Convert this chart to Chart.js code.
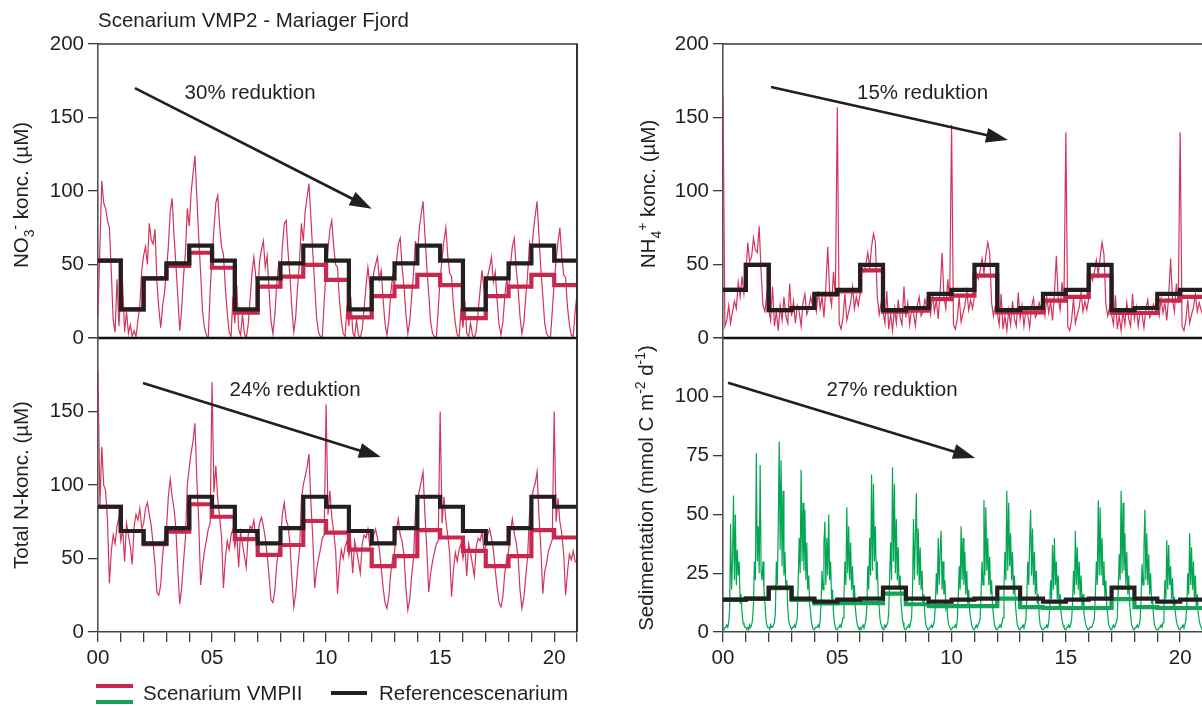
<!DOCTYPE html>
<html lang="da">
<head>
<meta charset="utf-8">
<title>Scenarium VMP2 - Mariager Fjord</title>
<script src="https://cdn.jsdelivr.net/npm/chart.js@4.4.1/dist/chart.umd.min.js"></script>
<style>
  html, body { margin: 0; padding: 0; background: #fff; width: 1202px; height: 706px; overflow: hidden; }
  #wrap { position: relative; width: 1202px; height: 706px; overflow: hidden;
          font-family: 'Liberation Sans', Arial, Helvetica, sans-serif; color: #231f20; }
  canvas { position: absolute; }
  .txt { position: absolute; font-size: 20.5px; line-height: 20px; white-space: nowrap; }
  .sw { position: absolute; height: 4px; }
</style>
</head>
<body>
<div id="wrap">
  <canvas id="cNO3" width="600" height="350" style="left:0;top:0"></canvas>
  <canvas id="cTN" width="600" height="406" style="left:0;top:300px"></canvas>
  <canvas id="cNH4" width="620" height="350" style="left:600px;top:0"></canvas>
  <canvas id="cSED" width="620" height="406" style="left:600px;top:300px"></canvas>

  <div class="txt" style="left:98px;top:10px">Scenarium VMP2 - Mariager Fjord</div>

  <div class="sw" style="left:96px;top:684px;width:37px;background:#c8284e"></div>
  <div class="sw" style="left:96px;top:700px;width:37px;background:#13a457"></div>
  <div class="txt" style="left:143px;top:683px">Scenarium VMPII</div>
  <div class="sw" style="left:331px;top:691px;width:36px;background:#231f20"></div>
  <div class="txt" style="left:379px;top:683px">Referencescenarium</div>
</div>

<script>
// ---- time axis: years 00 .. 21, labels every fifth year ----
const YEAR_MAX = 21;
const X_LABEL_YEARS = [0, 5, 10, 15, 20];

// ---- NO3- (µM): monthly VMPII series, annual means ----
const NO3_VMP_THIN = [
   15, 62,107, 92, 88, 80, 75, 45, 12,  4, 40,  8,
   30, 35,  4, 18,  3,  9,  1,  5,  1, 12, 22, 46,
   56, 62, 50, 78, 67, 64, 74, 38, 20,  7, 22, 31,
   46, 62, 86, 95, 70, 50, 28,  5, 19, 42, 58, 88,
   76, 99,112,124, 96, 68, 44, 18,  7,  2,  0, 32,
   55, 74, 92, 97, 76, 62, 57, 34, 17,  4,  1, 28,
   10, 36,  6,  2, 16,  3,  0,  9, 26, 44, 55, 42,
   28, 52, 60, 66, 48, 56, 32, 12,  3, 15, 36, 50,
   40, 62, 78, 80, 58, 42, 20,  4, 14, 35, 52, 78,
   66, 86, 96,105, 82, 58, 36, 14,  4,  1,  0, 25,
   46, 60, 74, 80, 62, 50, 48, 26, 12,  3,  1, 22,
    8, 28,  4,  1, 12,  2,  0,  6, 20, 35, 48, 36,
   22, 44, 50, 55, 40, 46, 26, 10,  2, 12, 30, 42,
   34, 52, 64, 68, 48, 35, 16,  3, 11, 28, 44, 66,
   56, 74, 84, 93, 70, 48, 30, 11,  3,  1,  0, 20,
   40, 54, 66, 75, 56, 44, 42, 22, 10,  2,  1, 20,
    7, 25,  3,  1, 10,  2,  0,  5, 18, 32, 46, 34,
   20, 42, 48, 55, 38, 45, 25,  9,  2, 11, 28, 40,
   32, 50, 62, 68, 47, 34, 15,  3, 10, 27, 43, 64,
   55, 72, 83, 93, 69, 47, 29, 10,  3,  1,  0, 18,
   38, 53, 65, 75, 55, 43, 41, 21,  9,  2,  1, 18,
   30];
const NO3_VMP_YEAR = [52.6, 19.5, 40.6, 49, 58, 47.8, 17.2, 34.9, 41.7, 49.7, 39.5,
                      14, 28.5, 35, 43, 36, 13.5, 28.5, 35, 43, 36];
const NO3_REF_YEAR = [52.6, 19.5, 40.6, 50.8, 62.8, 52.6, 19.5, 40.6, 50.8, 62.8, 52.6,
                      19.5, 40.6, 50.8, 62.8, 52.6, 19.5, 40.6, 50.8, 62.8, 52.6];

// ---- Total N (µM) ----
const TN_VMP_THIN = [
  178, 86,126,100, 96, 76, 33, 55, 66, 60, 72, 78,
   62, 70, 48, 74, 66, 58, 46, 72, 80, 76, 84, 70,
   74, 84, 88, 80, 72, 60, 46, 27, 25, 32, 52, 64,
   70, 92,104, 92, 84, 70, 42, 19, 30, 48, 64,100,
  112,122,130,142,104, 75, 32, 45, 55, 62, 70, 74,
  170, 95,113, 90, 78, 65, 30, 50, 62, 56, 66, 70,
   58, 66, 44, 68, 60, 52, 44, 66, 72, 70, 76, 64,
   66, 74, 78, 72, 64, 52, 38, 22, 20, 28, 46, 56,
   62, 80, 88, 76, 72, 60, 36, 17, 26, 42, 56, 90,
  100,106,112,121, 88, 64, 30, 42, 50, 56, 64, 66,
  155, 80, 96, 78, 68, 56, 26, 44, 56, 50, 58, 62,
   52, 60, 40, 62, 56, 48, 40, 60, 66, 64, 70, 58,
   60, 66, 70, 64, 56, 44, 30, 20, 16, 24, 40, 50,
   54, 70, 77, 66, 62, 52, 30, 15, 22, 38, 50, 82,
   90, 96,102,109, 80, 56, 27, 40, 48, 54, 60, 62,
  150, 74, 92, 76, 66, 54, 24, 42, 54, 48, 56, 60,
   50, 58, 38, 60, 54, 46, 38, 58, 64, 62, 68, 56,
   58, 66, 70, 64, 56, 42, 30, 20, 17, 24, 40, 50,
   55, 69, 77, 67, 61, 51, 29, 16, 23, 37, 51, 80,
   89, 97,101,109, 79, 57, 26, 41, 47, 55, 59, 63,
  150, 75, 91, 75, 67, 53, 25, 41, 53, 49, 55, 48,
   47];
const TN_VMP_YEAR = [85.2, 68.7, 59.8, 68.3, 86.9, 78.4, 63.2, 52.4, 59.2, 75.5, 67.6,
                     56, 44.8, 51.6, 69.3, 64.3, 55.2, 44.8, 51.6, 69.3, 64.3];
const TN_REF_YEAR = [85.2, 68.7, 60.3, 70.7, 92, 85.2, 68.7, 60.3, 70.7, 92, 85.2,
                     68.7, 60.3, 70.7, 92, 85.2, 68.7, 60.3, 70.7, 92, 85.2];

// ---- NH4+ (µM) ----
const NH4_VMP_THIN = [
  165,  8, 12, 22, 10, 18, 25, 20, 38, 28, 42, 30,
   42, 65, 52, 55, 68, 60, 58, 76, 45, 22, 18, 30,
   20, 12, 35,  8, 18,  5, 22, 12, 28, 15, 10, 37,
   15, 25, 10, 22, 18,  8, 24, 30, 16, 20, 28, 22,
   26, 18, 32, 20, 28, 14, 35, 62, 30, 22, 45, 28,
  157, 10,  6, 14, 30, 12, 18, 24, 35, 20, 28, 22,
   30, 48, 45, 50, 58, 48, 62, 71, 65, 28, 16, 24,
   18, 10, 32,  6, 16,  5, 20, 10, 26, 14,  9, 35,
   14, 24,  9, 20, 17,  8, 22, 28, 15, 18, 26, 21,
   24, 16, 30, 18, 26, 13, 32, 58, 28, 20, 40, 26,
  145,  9,  6, 13, 28, 11, 17, 22, 32, 19, 26, 20,
   28, 44, 40, 46, 54, 44, 56, 65, 58, 24, 15, 22,
   17,  9, 30,  6, 15,  5, 19,  9, 25, 13,  8, 31,
   13, 22,  8, 19, 16,  7, 21, 27, 14, 17, 24, 20,
   23, 15, 28, 17, 25, 12, 30, 56, 27, 19, 38, 25,
  140,  8,  5, 12, 27, 10, 16, 21, 31, 18, 25, 19,
   27, 43, 39, 45, 53, 43, 55, 65, 57, 23, 15, 21,
   16,  9, 29,  6, 15,  5, 18,  9, 24, 13,  8, 30,
   13, 21,  8, 18, 16,  7, 20, 26, 14, 17, 23, 19,
   22, 15, 27, 17, 24, 12, 29, 54, 26, 18, 37, 24,
  140,  8,  5, 12, 26, 10, 16, 21, 30, 18, 24, 19,
   15];
const NH4_VMP_YEAR = [32.7, 49.7, 19, 20.4, 29.5, 31.7, 46, 18, 18.6, 26.5, 28.8,
                      42.4, 17.5, 17.5, 25.4, 28, 42.4, 17, 17, 25.4, 28];
const NH4_REF_YEAR = [32.7, 49.7, 19, 20.4, 30, 32.7, 49.7, 19, 20.4, 30, 32.7,
                      49.7, 19, 20.4, 30, 32.7, 49.7, 19, 20.4, 30, 32.7];

// ---- Sedimentation (mmol C m-2 d-1), 24 values per year ----
const SED_VMP_THIN = [
  0, 1, 2, 2, 3, 2, 4, 10, 46, 18, 30, 58, 22, 50, 20, 35, 24, 30, 12, 16,  8, 4, 3, 2,
  2, 1, 2, 1, 3, 2, 3,  5, 12, 30, 22, 76, 30, 45, 25, 71, 26, 22, 30, 18, 12, 6, 3, 2,
  2, 1, 3, 2, 2, 3, 4,  8, 30, 20, 44, 81, 35, 73, 28, 60, 24, 34, 18, 22, 10, 5, 3, 2,
  1, 2, 2, 3, 2, 4, 6, 22, 40, 25, 69, 30, 55, 26, 52, 22, 38, 18, 24, 12,  8, 4, 2, 1,
  1, 2, 2, 2, 3, 2, 5, 12, 26, 18, 38, 47, 20, 40, 24, 50, 22, 30, 14, 18,  8, 4, 2, 1,
  1, 2, 2, 3, 2, 4, 6, 15, 30, 20, 53, 25, 45, 22, 38, 18, 28, 14, 20, 10,  6, 3, 2, 1,
  2, 1, 2, 3, 2, 3, 5, 10, 28, 18, 40, 24, 67, 26, 63, 30, 45, 22, 30, 15, 10, 5, 3, 2,
  1, 2, 3, 2, 3, 4, 8, 24, 38, 22, 70, 30, 63, 25, 48, 22, 36, 18, 24, 12,  7, 4, 2, 1,
  1, 2, 2, 3, 2, 4, 6, 18, 48, 22, 40, 59, 24, 44, 20, 36, 18, 26, 12, 16,  7, 3, 2, 1,
  1, 2, 2, 3, 2, 3, 5, 12, 25, 16, 40, 20, 35, 43, 18, 30, 16, 22, 10, 12,  6, 3, 2, 1,
  1, 2, 2, 2, 3, 2, 5, 14, 28, 18, 45, 22, 40, 20, 34, 16, 26, 12, 18,  9,  6, 3, 2, 1,
  1, 2, 3, 2, 3, 4, 6, 16, 30, 20, 56, 24, 53, 26, 40, 20, 32, 16, 22, 11,  7, 3, 2, 1,
  1, 2, 2, 3, 2, 4, 6, 18, 34, 22, 60, 26, 55, 28, 42, 22, 34, 16, 24, 12,  7, 3, 2, 1,
  1, 2, 2, 3, 2, 3, 5, 14, 30, 20, 38, 52, 24, 44, 20, 34, 16, 26, 12, 16,  7, 3, 2, 1,
  1, 1, 2, 2, 3, 2, 4, 10, 22, 14, 37, 18, 40, 20, 30, 14, 24, 11, 16,  8,  5, 3, 2, 1,
  1, 2, 2, 3, 2, 3, 5, 12, 26, 16, 43, 20, 36, 18, 30, 14, 24, 11, 16,  8,  5, 3, 2, 1,
  1, 2, 2, 2, 3, 4, 6, 16, 30, 20, 56, 24, 53, 24, 40, 20, 30, 15, 22, 11,  7, 3, 2, 1,
  1, 2, 3, 2, 3, 4, 6, 18, 33, 22, 60, 25, 55, 26, 42, 20, 34, 16, 24, 12,  7, 3, 2, 1,
  1, 2, 2, 3, 2, 3, 5, 14, 29, 20, 36, 52, 22, 42, 20, 33, 16, 25, 12, 15,  7, 3, 2, 1,
  1, 1, 2, 2, 3, 2, 4, 10, 22, 14, 39, 18, 37, 20, 28, 14, 23, 11, 15,  8,  5, 3, 2, 1,
  1, 2, 2, 3, 2, 3, 5, 12, 25, 16, 42, 20, 36, 18, 30, 14, 24, 11, 16,  8,  5, 3, 2, 1,
  1];
const SED_VMP_YEAR = [13.8, 14.2, 18.6, 13.6, 12.2, 12.3, 12.3, 16.3, 11.8, 11, 11,
                      11, 14.2, 10.6, 10.2, 10.2, 10.2, 14, 10.6, 10.2, 10.2];
const SED_REF_YEAR = [13.8, 14.2, 18.9, 14.2, 12.9, 13.8, 14.2, 18.9, 14.2, 12.9, 13.8,
                      14.2, 18.9, 14.2, 12.9, 13.8, 14.2, 18.9, 14.2, 12.9, 13.8];

// ---- styling ----
const FONT = "'Liberation Sans', Arial, Helvetica, sans-serif";
const FONT_SIZE = 20.5;
const INK = '#231f20';
const RED_THIN = '#d3345c', RED = '#c8284e';
const GREEN_THIN = '#00a651', GREEN = '#13a457';

Chart.defaults.font.family = FONT;
Chart.defaults.font.size = FONT_SIZE;
Chart.defaults.color = INK;

// series sampled at a fixed number of values per year
function perYear(vals, n) { return vals.map((v, i) => ({ x: i / n, y: v })); }
// annual values held constant over each year
function yearly(vals) {
  const pts = vals.map((v, i) => ({ x: i, y: v }));
  pts.push({ x: vals.length, y: vals[vals.length - 1] });
  return pts;
}

function thin(data, color) {
  return { data, borderColor: color, borderWidth: 1.2, pointRadius: 0, tension: 0, order: 3 };
}
function thick(data, color, order) {
  return { data, borderColor: color, borderWidth: 4.2, pointRadius: 0, stepped: true,
           borderJoinStyle: 'miter', borderCapStyle: 'butt', order };
}

// rotated axis title with sub- and superscripts
function drawRich(ctx, segs, cx, cy, size) {
  const small = size * 0.68;
  ctx.save();
  ctx.translate(cx, cy);
  ctx.rotate(-Math.PI / 2);
  ctx.fillStyle = INK;
  ctx.textBaseline = 'alphabetic';
  let w = 0;
  for (const s of segs) {
    ctx.font = (s.k ? small : size) + 'px ' + FONT;
    s.w = ctx.measureText(s.t).width;
    w += s.w;
  }
  let x = -w / 2;
  const base = size * 0.36;
  for (const s of segs) {
    ctx.font = (s.k ? small : size) + 'px ' + FONT;
    let y = base;
    if (s.k === 'sub') y = base + size * 0.28;
    if (s.k === 'sup') y = base - size * 0.42;
    ctx.textAlign = 'left';
    ctx.fillText(s.t, x, y);
    x += s.w;
  }
  ctx.restore();
}

const decor = {
  id: 'decor',
  afterDatasetsDraw(chart, _args, o) {
    const ctx = chart.ctx, a = chart.chartArea;
    const xs = chart.scales.x, ys = chart.scales.y;
    ctx.save();
    ctx.lineCap = 'butt';
    for (const e of (o.edges || [])) {
      ctx.strokeStyle = e.color; ctx.lineWidth = e.width;
      ctx.beginPath();
      if (e.side === 'top')    { ctx.moveTo(a.left, a.top);    ctx.lineTo(a.right + 1, a.top); }
      if (e.side === 'bottom') { ctx.moveTo(a.left, a.bottom); ctx.lineTo(a.right + 1, a.bottom); }
      if (e.side === 'right')  { ctx.moveTo(a.right, a.top);   ctx.lineTo(a.right, a.bottom); }
      ctx.stroke();
    }
    if (o.arrow) {
      const x1 = xs.getPixelForValue(o.arrow.from[0]), y1 = ys.getPixelForValue(o.arrow.from[1]);
      const x2 = xs.getPixelForValue(o.arrow.to[0]),   y2 = ys.getPixelForValue(o.arrow.to[1]);
      const ang = Math.atan2(y2 - y1, x2 - x1), L = 22, H = 7.5;
      const bx = x2 - L * Math.cos(ang), by = y2 - L * Math.sin(ang);
      ctx.strokeStyle = INK; ctx.fillStyle = INK; ctx.lineWidth = 2.6;
      ctx.beginPath(); ctx.moveTo(x1, y1); ctx.lineTo(bx + 3 * Math.cos(ang), by + 3 * Math.sin(ang)); ctx.stroke();
      ctx.beginPath();
      ctx.moveTo(x2, y2);
      ctx.lineTo(bx + H * Math.sin(ang), by - H * Math.cos(ang));
      ctx.lineTo(bx - H * Math.sin(ang), by + H * Math.cos(ang));
      ctx.closePath(); ctx.fill();
    }
    if (o.note) {
      ctx.font = FONT_SIZE + 'px ' + FONT;
      ctx.fillStyle = INK; ctx.textAlign = 'center'; ctx.textBaseline = 'middle';
      ctx.fillText(o.note.text, xs.getPixelForValue(o.note.at[0]), ys.getPixelForValue(o.note.at[1]));
    }
    if (o.title) {
      drawRich(ctx, o.title.segs, a.left + o.title.dx, (a.top + a.bottom) / 2 + (o.title.dy || 0), FONT_SIZE);
    }
    ctx.restore();
  }
};

// scale boxes keep a fixed size and ask for no extra edge room
function fixBox(s, w, h) {
  if (w !== undefined) s.width = w;
  if (h !== undefined) s.height = h;
  s.paddingTop = 0; s.paddingBottom = 0; s.paddingLeft = 0; s.paddingRight = 0;
}

function panel(id, cfg) {
  const tickGrid = { drawOnChartArea: false, drawTicks: true, tickLength: 10, color: '#3a3a3a', lineWidth: 1.3 };
  const x = {
    type: 'linear', min: 0, max: YEAR_MAX, display: cfg.xAxis,
    afterFit: s => fixBox(s, undefined, cfg.xHeight || 0),
    grid: tickGrid,
    border: { display: true, color: '#444', width: 1.6 },
    ticks: { stepSize: 1, autoSkip: false, maxRotation: 0, padding: 4,
             callback: v => X_LABEL_YEARS.includes(v) ? String(v).padStart(2, '0') : '' }
  };
  const y = {
    type: 'linear', min: 0, max: cfg.yMax,
    afterFit: s => fixBox(s, cfg.yWidth, undefined),
    grid: tickGrid,
    border: { display: true, color: '#555', width: 1.6 },
    ticks: { stepSize: cfg.yStep, autoSkip: false, padding: 4,
             callback: v => (v === cfg.yHide ? '' : String(v)) }
  };
  return new Chart(document.getElementById(id), {
    type: 'line',
    data: { datasets: cfg.datasets },
    options: {
      responsive: false, animation: false, events: [], parsing: false, normalized: true,
      layout: { autoPadding: false, padding: cfg.pad },
      scales: { x, y },
      plugins: { legend: { display: false }, tooltip: { enabled: false }, decor: cfg.decor }
    },
    plugins: [decor]
  });
}

const SEP = { side: 'bottom', color: '#111', width: 2.6 };
const TOP = { side: 'top', color: '#333', width: 1.5 };
const RIGHT = { side: 'right', color: '#333', width: 2 };

panel('cNO3', {
  xAxis: false, yMax: 200, yStep: 50, yWidth: 98,
  pad: { left: 0, top: 44, right: 23, bottom: 12 },
  datasets: [
    thick(yearly(NO3_REF_YEAR), INK, 1),
    thick(yearly(NO3_VMP_YEAR), RED, 2),
    thin(perYear(NO3_VMP_THIN, 12), RED_THIN)
  ],
  decor: {
    edges: [TOP, RIGHT, SEP],
    arrow: { from: [1.62, 170], to: [12.0, 88] },
    note: { text: '30% reduktion', at: [6.67, 166.5] },
    title: { segs: [{ t: 'NO' }, { t: '3', k: 'sub' }, { t: '-', k: 'sup' }, { t: ' konc. (µM)' }], dx: -77, dy: 4 }
  }
});

panel('cTN', {
  xAxis: true, xHeight: 74, yMax: 200, yStep: 50, yWidth: 98, yHide: 200,
  pad: { left: 0, top: 38, right: 23, bottom: 0 },
  datasets: [
    thick(yearly(TN_REF_YEAR), INK, 1),
    thick(yearly(TN_VMP_YEAR), RED, 2),
    thin(perYear(TN_VMP_THIN, 12), RED_THIN)
  ],
  decor: {
    edges: [RIGHT],
    arrow: { from: [1.97, 169.4], to: [12.4, 119] },
    note: { text: '24% reduktion', at: [8.64, 164.6] },
    title: { segs: [{ t: 'Total N-konc. (µM)' }], dx: -77, dy: 0 }
  }
});

panel('cNH4', {
  xAxis: false, yMax: 200, yStep: 50, yWidth: 123,
  pad: { left: 0, top: 44, right: 17, bottom: 12 },
  datasets: [
    thick(yearly(NH4_REF_YEAR), INK, 1),
    thick(yearly(NH4_VMP_YEAR), RED, 2),
    thin(perYear(NH4_VMP_THIN, 12), RED_THIN)
  ],
  decor: {
    edges: [TOP, SEP],
    arrow: { from: [2.1, 170.7], to: [12.47, 134.7] },
    note: { text: '15% reduktion', at: [8.73, 166.7] },
    title: { segs: [{ t: 'NH' }, { t: '4', k: 'sub' }, { t: '+', k: 'sup' }, { t: ' konc. (µM)' }], dx: -75, dy: 3 }
  }
});

panel('cSED', {
  xAxis: true, xHeight: 74, yMax: 125, yStep: 25, yWidth: 123, yHide: 125,
  pad: { left: 0, top: 38, right: 17, bottom: 0 },
  datasets: [
    thick(yearly(SED_REF_YEAR), INK, 1),
    thick(yearly(SED_VMP_YEAR), GREEN, 2),
    thin(perYear(SED_VMP_THIN, 24), GREEN_THIN)
  ],
  decor: {
    edges: [],
    arrow: { from: [0.22, 106], to: [11.03, 74] },
    note: { text: '27% reduktion', at: [7.4, 102.6] },
    title: { segs: [{ t: 'Sedimentation (mmol C m' }, { t: '-2', k: 'sup' }, { t: ' d' }, { t: '-1', k: 'sup' }, { t: ')' }], dx: -77, dy: 3 }
  }
});
</script>
</body>
</html>
